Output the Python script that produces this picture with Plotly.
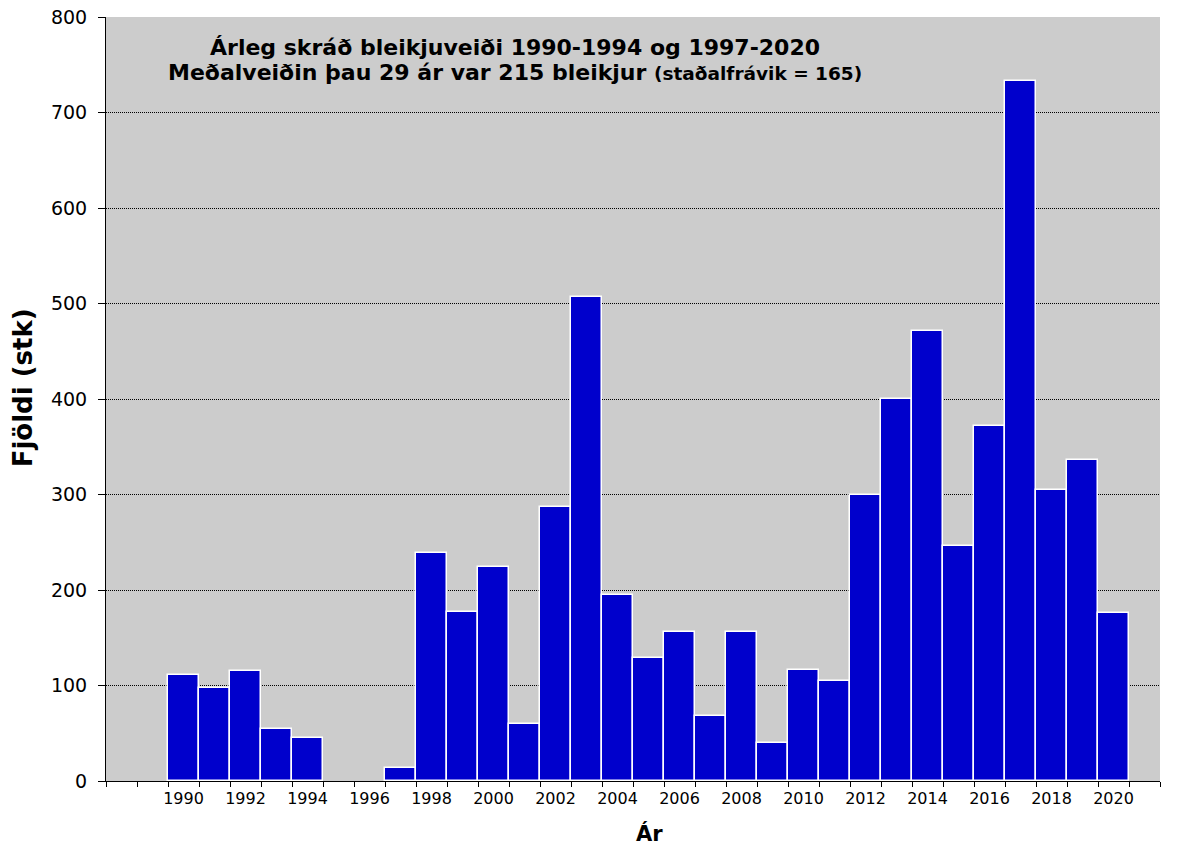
import plotly.graph_objects as go

years = [1990, 1991, 1992, 1993, 1994, 1997, 1998, 1999, 2000, 2001, 2002, 2003, 2004,
         2005, 2006, 2007, 2008, 2009, 2010, 2011, 2012, 2013, 2014, 2015, 2016, 2017,
         2018, 2019, 2020]
catch = [111, 97, 115, 54, 45, 14, 239, 177, 224, 60, 287, 507, 195,
         129, 156, 68, 156, 40, 116, 105, 299, 400, 471, 246, 372, 733,
         305, 336, 176]
x_labels = [str(y) for y in range(1990, 2021, 2)]
y_ticks = list(range(0, 801, 100))

title_line1 = "Árleg skráð bleikjuveiði 1990-1994 og 1997-2020"
title_line2 = "Meðalveiðin þau 29 ár var 215 bleikjur"
title_line2_small = "(staðalfrávik = 165)"
y_title = "Fjöldi (stk)"
x_title = "Ár"

FONT = "DejaVu Sans, Verdana, sans-serif"

fig = go.Figure()
fig.add_trace(go.Bar(
    x=years, y=catch, width=1,
    marker=dict(color="#0000CC", line=dict(color="white", width=1.5)),
))

# page body has an 8px margin; sizes compensate for it
fig.update_layout(
    width=1171, height=839,
    margin=dict(l=98, r=19, t=9, b=66),
    paper_bgcolor="white", plot_bgcolor="#CCCCCC",
    showlegend=False, bargap=0,
    font=dict(family=FONT, color="black"),
    xaxis=dict(
        range=[1987.5, 2021.5], automargin=False,
        tickvals=[int(v) for v in x_labels], ticktext=x_labels,
        ticks="", tickfont=dict(size=16, family=FONT), ticklabelstandoff=3,
        showgrid=False, zeroline=False,
        showline=True, linecolor="black", linewidth=1,
        minor=dict(tick0=1987.5, dtick=1, ticks="outside", ticklen=5,
                   tickcolor="black", tickwidth=1, showgrid=False),
    ),
    yaxis=dict(
        range=[0, 800], tickvals=y_ticks, automargin=False,
        ticks="outside", ticklen=7, tickcolor="black",
        tickfont=dict(size=19, family=FONT), ticklabelstandoff=7,
        ticklabeloverflow="allow",
        showgrid=True, gridcolor="black", gridwidth=1, griddash="1px,1px",
        zeroline=False, showline=True, linecolor="black", linewidth=1,
    ),
)

fig.add_annotation(
    xref="paper", yref="paper", x=-0.0787, y=0.514, showarrow=False,
    xanchor="center", yanchor="middle", textangle=-90,
    text="<b>" + y_title + "</b>",
    font=dict(size=26, family=FONT, color="black"),
)
fig.add_annotation(
    xref="paper", yref="paper", x=0.5157, y=-0.0681, showarrow=False,
    xanchor="center", yanchor="middle",
    text="<b>" + x_title + "</b>",
    font=dict(size=21, family=FONT, color="black"),
)
fig.add_annotation(
    xref="x", yref="y", x=2000.7, y=768.5, showarrow=False,
    xanchor="center", yanchor="middle",
    text="<b>" + title_line1 + "</b>",
    font=dict(size=22, family=FONT, color="black"),
)
fig.add_annotation(
    xref="x", yref="y", x=2000.7, y=741.5, showarrow=False,
    xanchor="center", yanchor="middle",
    text="<b>" + title_line2 + " <span style='font-size:18.5px'>" + title_line2_small + "</span></b>",
    font=dict(size=22, family=FONT, color="black"),
)

fig.write_html("out.html")
